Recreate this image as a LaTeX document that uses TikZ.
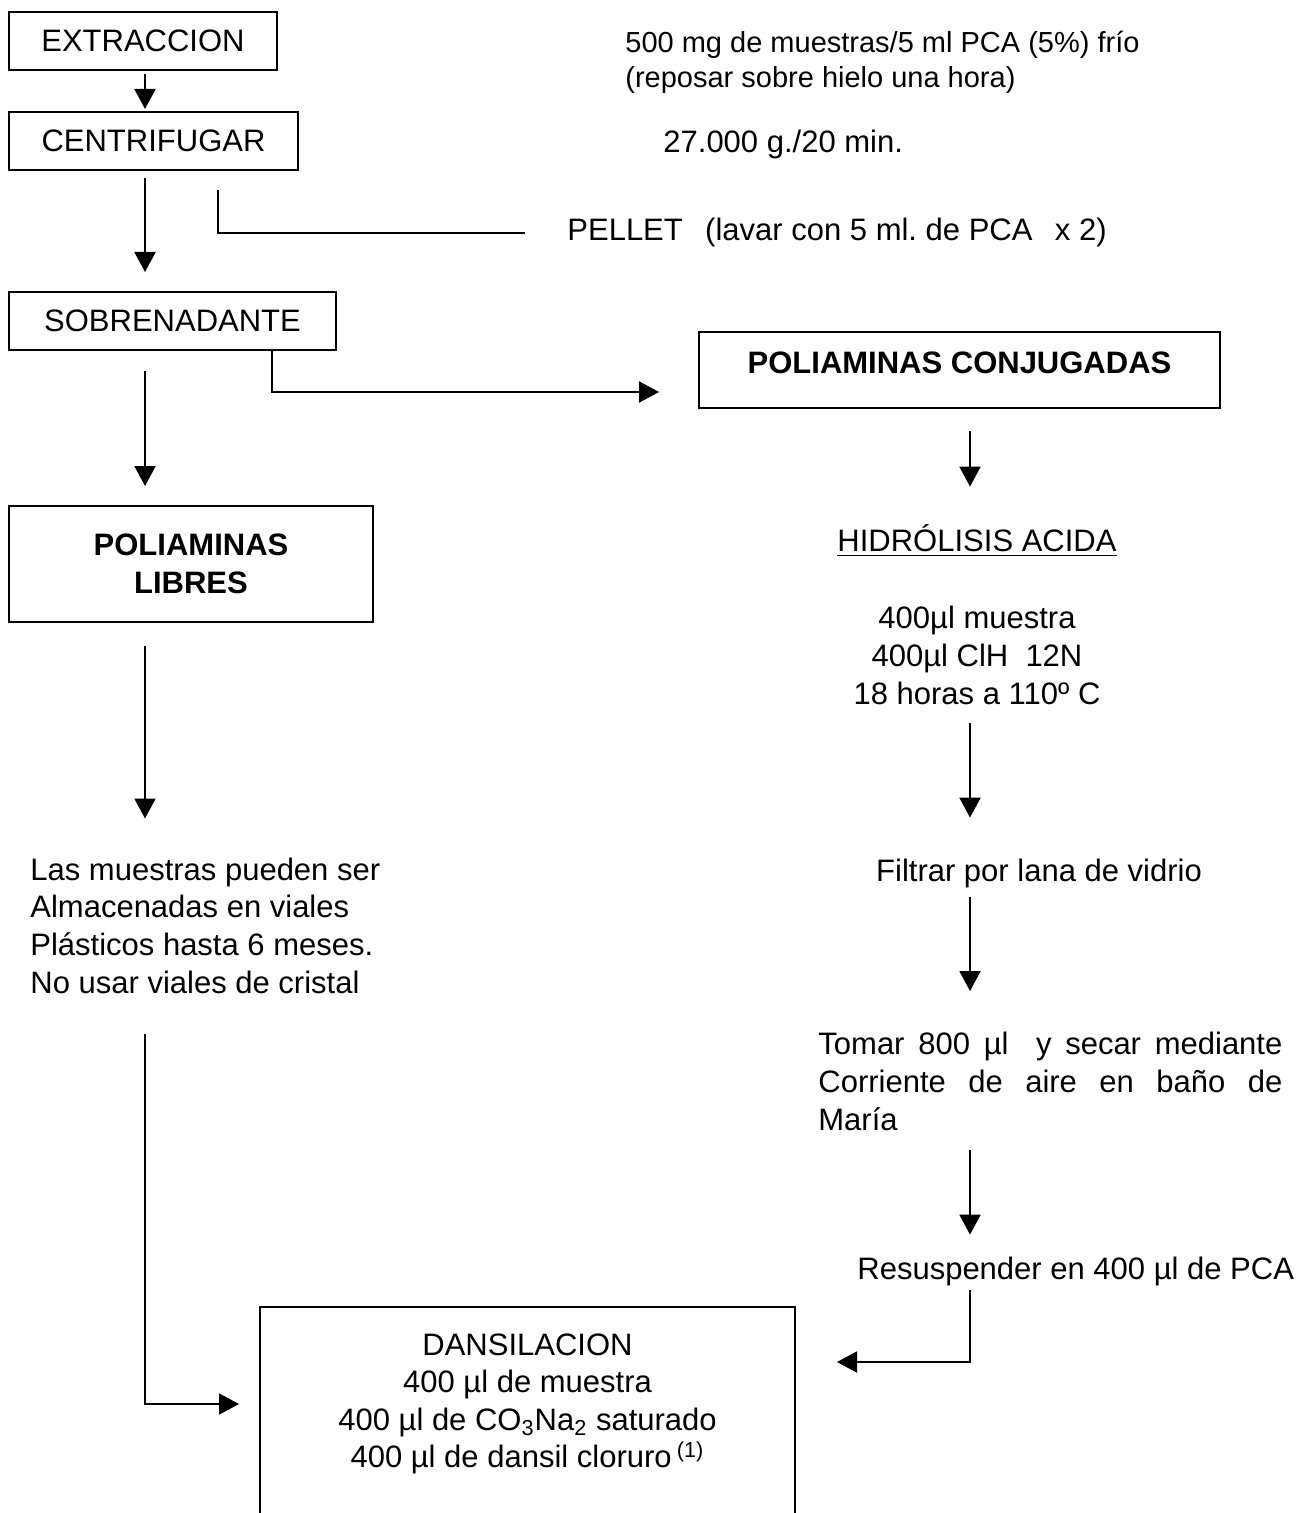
\documentclass[tikz,border=0pt]{standalone}
\usepackage{fontspec}
\setmainfont{Liberation Sans}
\usetikzlibrary{arrows.meta,calc}

% type sizes used in the flow chart
\newcommand\mainfs{\fontsize{15.5pt}{18.8pt}\selectfont}
\newcommand\notefs{\fontsize{14.5pt}{17.4pt}\selectfont}

\tikzset{
  box/.style={draw, line width=1pt, inner sep=0pt, font=\mainfs, align=center},
  txt/.style={inner sep=0pt, font=\mainfs},
  oneline/.style={txt, text height=11pt, text depth=3pt},
  ln/.style={line width=1pt},
  arr/.style={line width=1pt, -{Triangle[length=10pt,width=10.5pt]}},
}

\begin{document}
\frenchspacing
\hbadness=10000
\begin{tikzpicture}[x=0.5pt, y=-0.5pt]
\useasboundingbox (0,0) rectangle (1302,1513);
\fill[white] (0,0) rectangle (1302,1513);
\clip (0,0) rectangle (1302,1513);

% column guides for the vertical connectors
\coordinate (cL) at (145,0);
\coordinate (cR) at (970,0);
\coordinate (cS) at (272,0);
\coordinate (cP) at (218,0);

% left column boxes
\node[box, minimum width=134pt, minimum height=29pt] (ext) at (143,41) {EXTRACCION};
\node[box, minimum width=144.5pt, minimum height=29pt] (cen) at (153.5,141) {CENTRIFUGAR};
\node[box, minimum width=163.5pt, minimum height=29pt] (sob) at (172.5,321) {SOBRENADANTE};
\node[box, minimum width=182pt, minimum height=58pt, font=\mainfs\bfseries] (lib) at (191,564) {POLIAMINAS\\LIBRES};

% conjugated polyamines box, text sitting in its upper part
\node[box, minimum width=260.5pt, minimum height=38pt, font=\mainfs\bfseries,
      text height=11pt, text depth=7.9pt] (conj) at (959.5,370) {POLIAMINAS CONJUGADAS};

% notes at the top right
\node[txt, font=\notefs, anchor=north west, align=left] (note) at (625,30.5)
  {500 mg de muestras/5 ml PCA (5\%) frío\\(reposar sobre hielo una hora)};
\node[oneline, anchor=base west] (spin) at (663,153) {27.000 g./20 min.};
\node[oneline, anchor=base west] (pellet) at (567,241) {PELLET\ \ \,(lavar con 5 ml. de PCA\ \ \,x 2)};

% acid hydrolysis branch
\node[oneline, anchor=base] (hidro) at (977,551) {HIDRÓLISIS ACIDA};
\draw[line width=0.8pt] ([yshift=-2.2pt]hidro.base west) -- ([yshift=-2.2pt]hidro.base east);
\node[txt, anchor=north, align=center] (hdet) at (977,606)
  {400µl muestra\\400µl ClH\ \ 12N\\18 horas a 110º C};
\node[oneline, anchor=base] (filt) at (1039,881) {Filtrar por lana de vidrio};
\node[txt, anchor=north west, align=left] (tomar) at (818,1032)
  {\hbox to 232pt{Tomar 800 µl\ \ y secar mediante}\\
   \hbox to 232pt{Corriente\hfill de\hfill aire\hfill en\hfill baño\hfill de}\\
   María};
\node[oneline, anchor=base west] (resus) at (857,1279) {Resuspender en 400 µl de PCA};

% storage note under the free polyamines
\node[txt, anchor=north west, align=left] (store) at (30,857.5)
  {Las muestras pueden ser\\Almacenadas en viales\\Plásticos hasta 6 meses.\\No usar viales de cristal};

% dansylation box, open towards the lower edge
\node[draw, line width=1pt, minimum width=267.5pt, minimum height=146.5pt, inner sep=0pt] (dans) at (527.5,1453.5) {};
\node[txt, anchor=north, align=center] (danstxt) at ([yshift=-13.5pt]dans.north)
  {DANSILACION\\400 µl de muestra\\400 µl de CO\textsubscript{3}Na\textsubscript{2} saturado\\400 µl de dansil cloruro\,\textsuperscript{(1)}};

% connectors, left column
\draw[arr, shorten <=1.5pt, shorten >=1pt] (ext.south -| cL) -- (cen.north -| cL);
\draw[arr, shorten <=3.5pt, shorten >=9.5pt] (cen.south -| cL) -- (sob.north -| cL);
\draw[ln, shorten <=9.5pt, shorten >=21pt] (cen.south -| cP) |- (pellet.west);
\draw[arr, shorten <=10pt, shorten >=9.5pt] (sob.south -| cL) -- (lib.north -| cL);
\draw[arr, shorten <=11.5pt, shorten >=19.5pt] (lib.south -| cL) -- (store.north -| cL);
\draw[arr, shorten <=20pt, shorten >=10pt] (store.south -| cL) |- ([yshift=-49pt]dans.north west);

% connectors, right column
\draw[arr, shorten >=19.5pt] (sob.south -| cS) |- ([yshift=-11pt]conj.west);
\draw[arr, shorten <=11pt, shorten >=21pt] (conj.south -| cR) -- (hidro.north -| cR);
\draw[arr, shorten <=9pt, shorten >=20.5pt] (hdet.south -| cR) -- (filt.north -| cR);
\draw[arr, shorten <=5pt, shorten >=20.5pt] (filt.south -| cR) -- (tomar.north -| cR);
\draw[arr, shorten <=9.5pt, shorten >=11pt] (tomar.south -| cR) -- (resus.north -| cR);
\draw[arr, shorten <=2.5pt, shorten >=20.5pt] (resus.south -| cR) |- ([yshift=-28pt]dans.north east);
\end{tikzpicture}
\end{document}
